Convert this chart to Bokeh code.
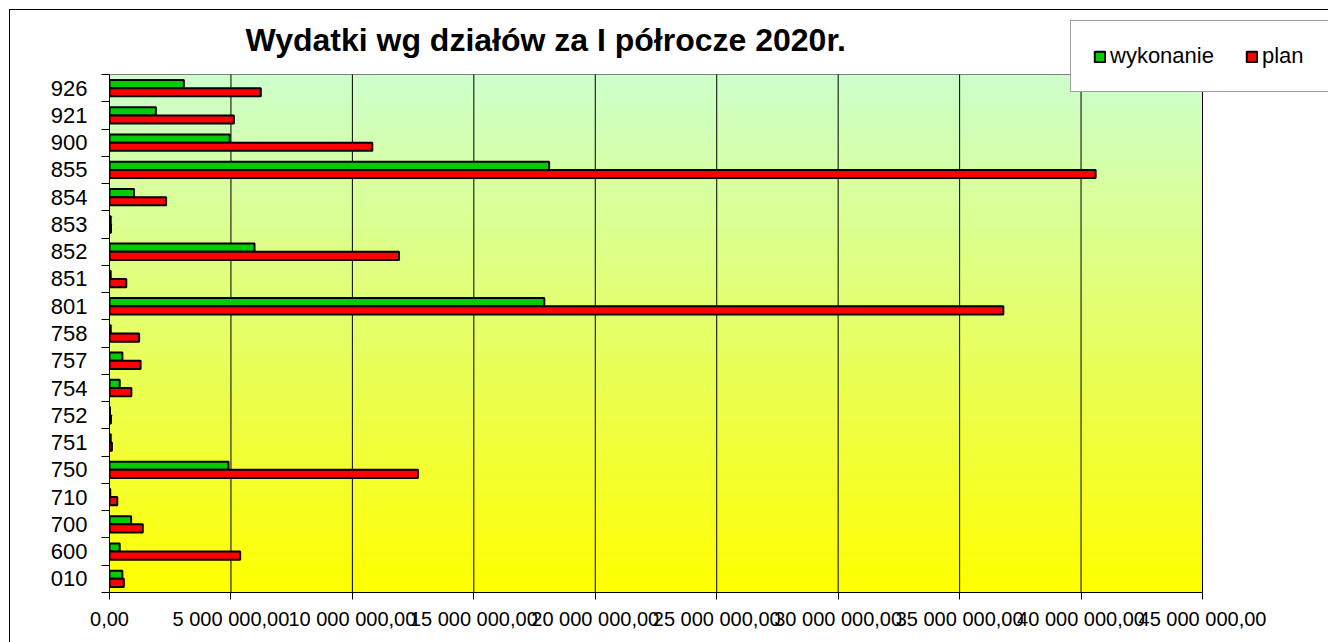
import numpy as np
from bokeh.plotting import figure
from bokeh.models import (Range1d, FixedTicker, ColumnDataSource, Legend, LegendItem, Label)
from bokeh.transform import dodge
from bokeh.embed import file_html
from bokeh.resources import INLINE

# ---- data (PLN) ----
categories = ["010", "600", "700", "710", "750", "751", "752", "754", "757", "758",
              "801", "851", "852", "853", "854", "855", "900", "921", "926"]
wykonanie = [530000, 420000, 890000, 30000, 4900000, 50000, 20000, 420000, 530000, 50000,
             17900000, 50000, 5970000, 50000, 1010000, 18100000, 4950000, 1910000, 3060000]
plan = [590000, 5380000, 1370000, 320000, 12700000, 100000, 60000, 900000, 1280000, 1220000,
        36800000, 690000, 11920000, 60000, 2330000, 40600000, 10820000, 5120000, 6230000]
x_ticks = [0, 5000000, 10000000, 15000000, 20000000, 25000000, 30000000, 35000000, 40000000, 45000000]
x_tick_labels = ["0,00", "5 000 000,00", "10 000 000,00", "15 000 000,00", "20 000 000,00",
                 "25 000 000,00", "30 000 000,00", "35 000 000,00", "40 000 000,00", "45 000 000,00"]
title_text = "Wydatki wg działów za I półrocze 2020r."

# ---- layout (pixels) ----
W, H = 1328, 642
PLOT_L, PLOT_R, PLOT_T, PLOT_B = 109, 1202, 74, 592
FONT = "Liberation Sans"

n = len(categories)
centers = [i + 0.5 for i in range(n)]
x_max = x_ticks[-1]
# frame spans from plot-area left/bottom to canvas right/top
x_end = x_max * (W - PLOT_L) / (PLOT_R - PLOT_L)
y_end = n * (PLOT_B - 0) / (PLOT_B - PLOT_T)

src = ColumnDataSource(dict(y=centers, cat=categories, wyk=wykonanie, plan=plan))

p = figure(width=W, height=H, output_backend="svg", toolbar_location=None,
           x_range=Range1d(0, x_end), y_range=Range1d(0, y_end),
           min_border_left=PLOT_L, min_border_right=0, min_border_top=0,
           min_border_bottom=H - PLOT_B)
p.styles = {
    "background-color": "#ffffff",
    "background-image": "linear-gradient(#000,#000), linear-gradient(#000,#000)",
    "background-size": "1px 100%, 100% 1px",
    "background-position": "9px 9px, 9px 9px",
    "background-repeat": "no-repeat",
}
p.background_fill_alpha = 0
p.border_fill_alpha = 0
p.outline_line_color = None

# gradient background of plot area (light green top -> yellow bottom)
rows = 256
t = np.linspace(0.0, 1.0, rows)  # 0 bottom, 1 top
top = np.array([204, 255, 204]); bot = np.array([255, 255, 0])
img = np.zeros((rows, 1), dtype=np.uint32)
view = img.view(dtype=np.uint8).reshape((rows, 1, 4))
for i, f in enumerate(t):
    c = bot + (top - bot) * f
    view[i, 0, 0] = int(round(c[0])); view[i, 0, 1] = int(round(c[1]))
    view[i, 0, 2] = int(round(c[2])); view[i, 0, 3] = 255
p.image_rgba(image=[img], x=0, y=0, dw=x_max, dh=n, level="image")

# plot-area border and vertical gridlines
p.quad(left=0, right=x_max, bottom=0, top=n, fill_color=None, line_color="#808080", line_width=1)
p.segment(x0=x_ticks, y0=[0] * len(x_ticks), x1=x_ticks, y1=[n] * len(x_ticks),
          line_color="#000000", line_width=1)

g = p.hbar(y=dodge("y", 0.15, range=p.y_range), right="wyk", left=0, height=0.3, source=src,
           fill_color="#00CC00", line_color="#000000", line_width=2)
r = p.hbar(y=dodge("y", -0.15, range=p.y_range), right="plan", left=0, height=0.3, source=src,
           fill_color="#FF0000", line_color="#000000", line_width=2)

# x axis
xa = p.xaxis[0]
xa.bounds = (0, x_max)
xa.ticker = FixedTicker(ticks=x_ticks)
xa.major_label_overrides = {k: v for k, v in zip(x_ticks, x_tick_labels)}
xa.major_label_text_font = FONT
xa.major_label_text_font_size = "20px"
xa.major_label_text_color = "#000000"
xa.axis_line_color = "#000000"
xa.major_tick_line_color = "#000000"
xa.major_tick_out = 7
xa.major_tick_in = 0
xa.minor_tick_line_color = None
xa.major_label_standoff = 8

# y axis: labels at category centres, ticks at category boundaries
ya = p.yaxis[0]
ya.bounds = (0, n)
ya.ticker = FixedTicker(ticks=centers, minor_ticks=list(range(n + 1)))
ya.major_label_overrides = {c: lab for c, lab in zip(centers, categories)}
ya.major_label_text_font = FONT
ya.major_label_text_font_size = "22px"
ya.major_label_text_color = "#000000"
ya.axis_line_color = "#000000"
ya.major_tick_line_color = None
ya.major_tick_out = 0
ya.major_tick_in = 0
ya.minor_tick_line_color = "#000000"
ya.minor_tick_out = 8
ya.minor_tick_in = 0
ya.major_label_standoff = 14

p.xgrid.visible = False
p.ygrid.visible = False

# title
p.add_layout(Label(x=245 - PLOT_L, y=PLOT_B - 39, x_units="screen", y_units="screen",
                   text=title_text, text_font=FONT, text_font_size="32px",
                   text_font_style="bold", text_color="#000000",
                   text_align="left", text_baseline="alphabetic"))

legend = Legend(items=[LegendItem(label="wykonanie", renderers=[g]),
                       LegendItem(label="plan", renderers=[r])],
                location=(1070 - PLOT_L, PLOT_B - 92), orientation="horizontal",
                padding=22, spacing=31, label_width=70,
                glyph_width=13, glyph_height=13, label_standoff=4, margin=0,
                label_text_font=FONT, label_text_font_size="22px", label_text_color="#000000",
                border_line_color="#404040", border_line_width=1,
                background_fill_color="#ffffff", background_fill_alpha=1.0)
p.add_layout(legend)

open("out.html", "w").write(file_html(p, INLINE))
